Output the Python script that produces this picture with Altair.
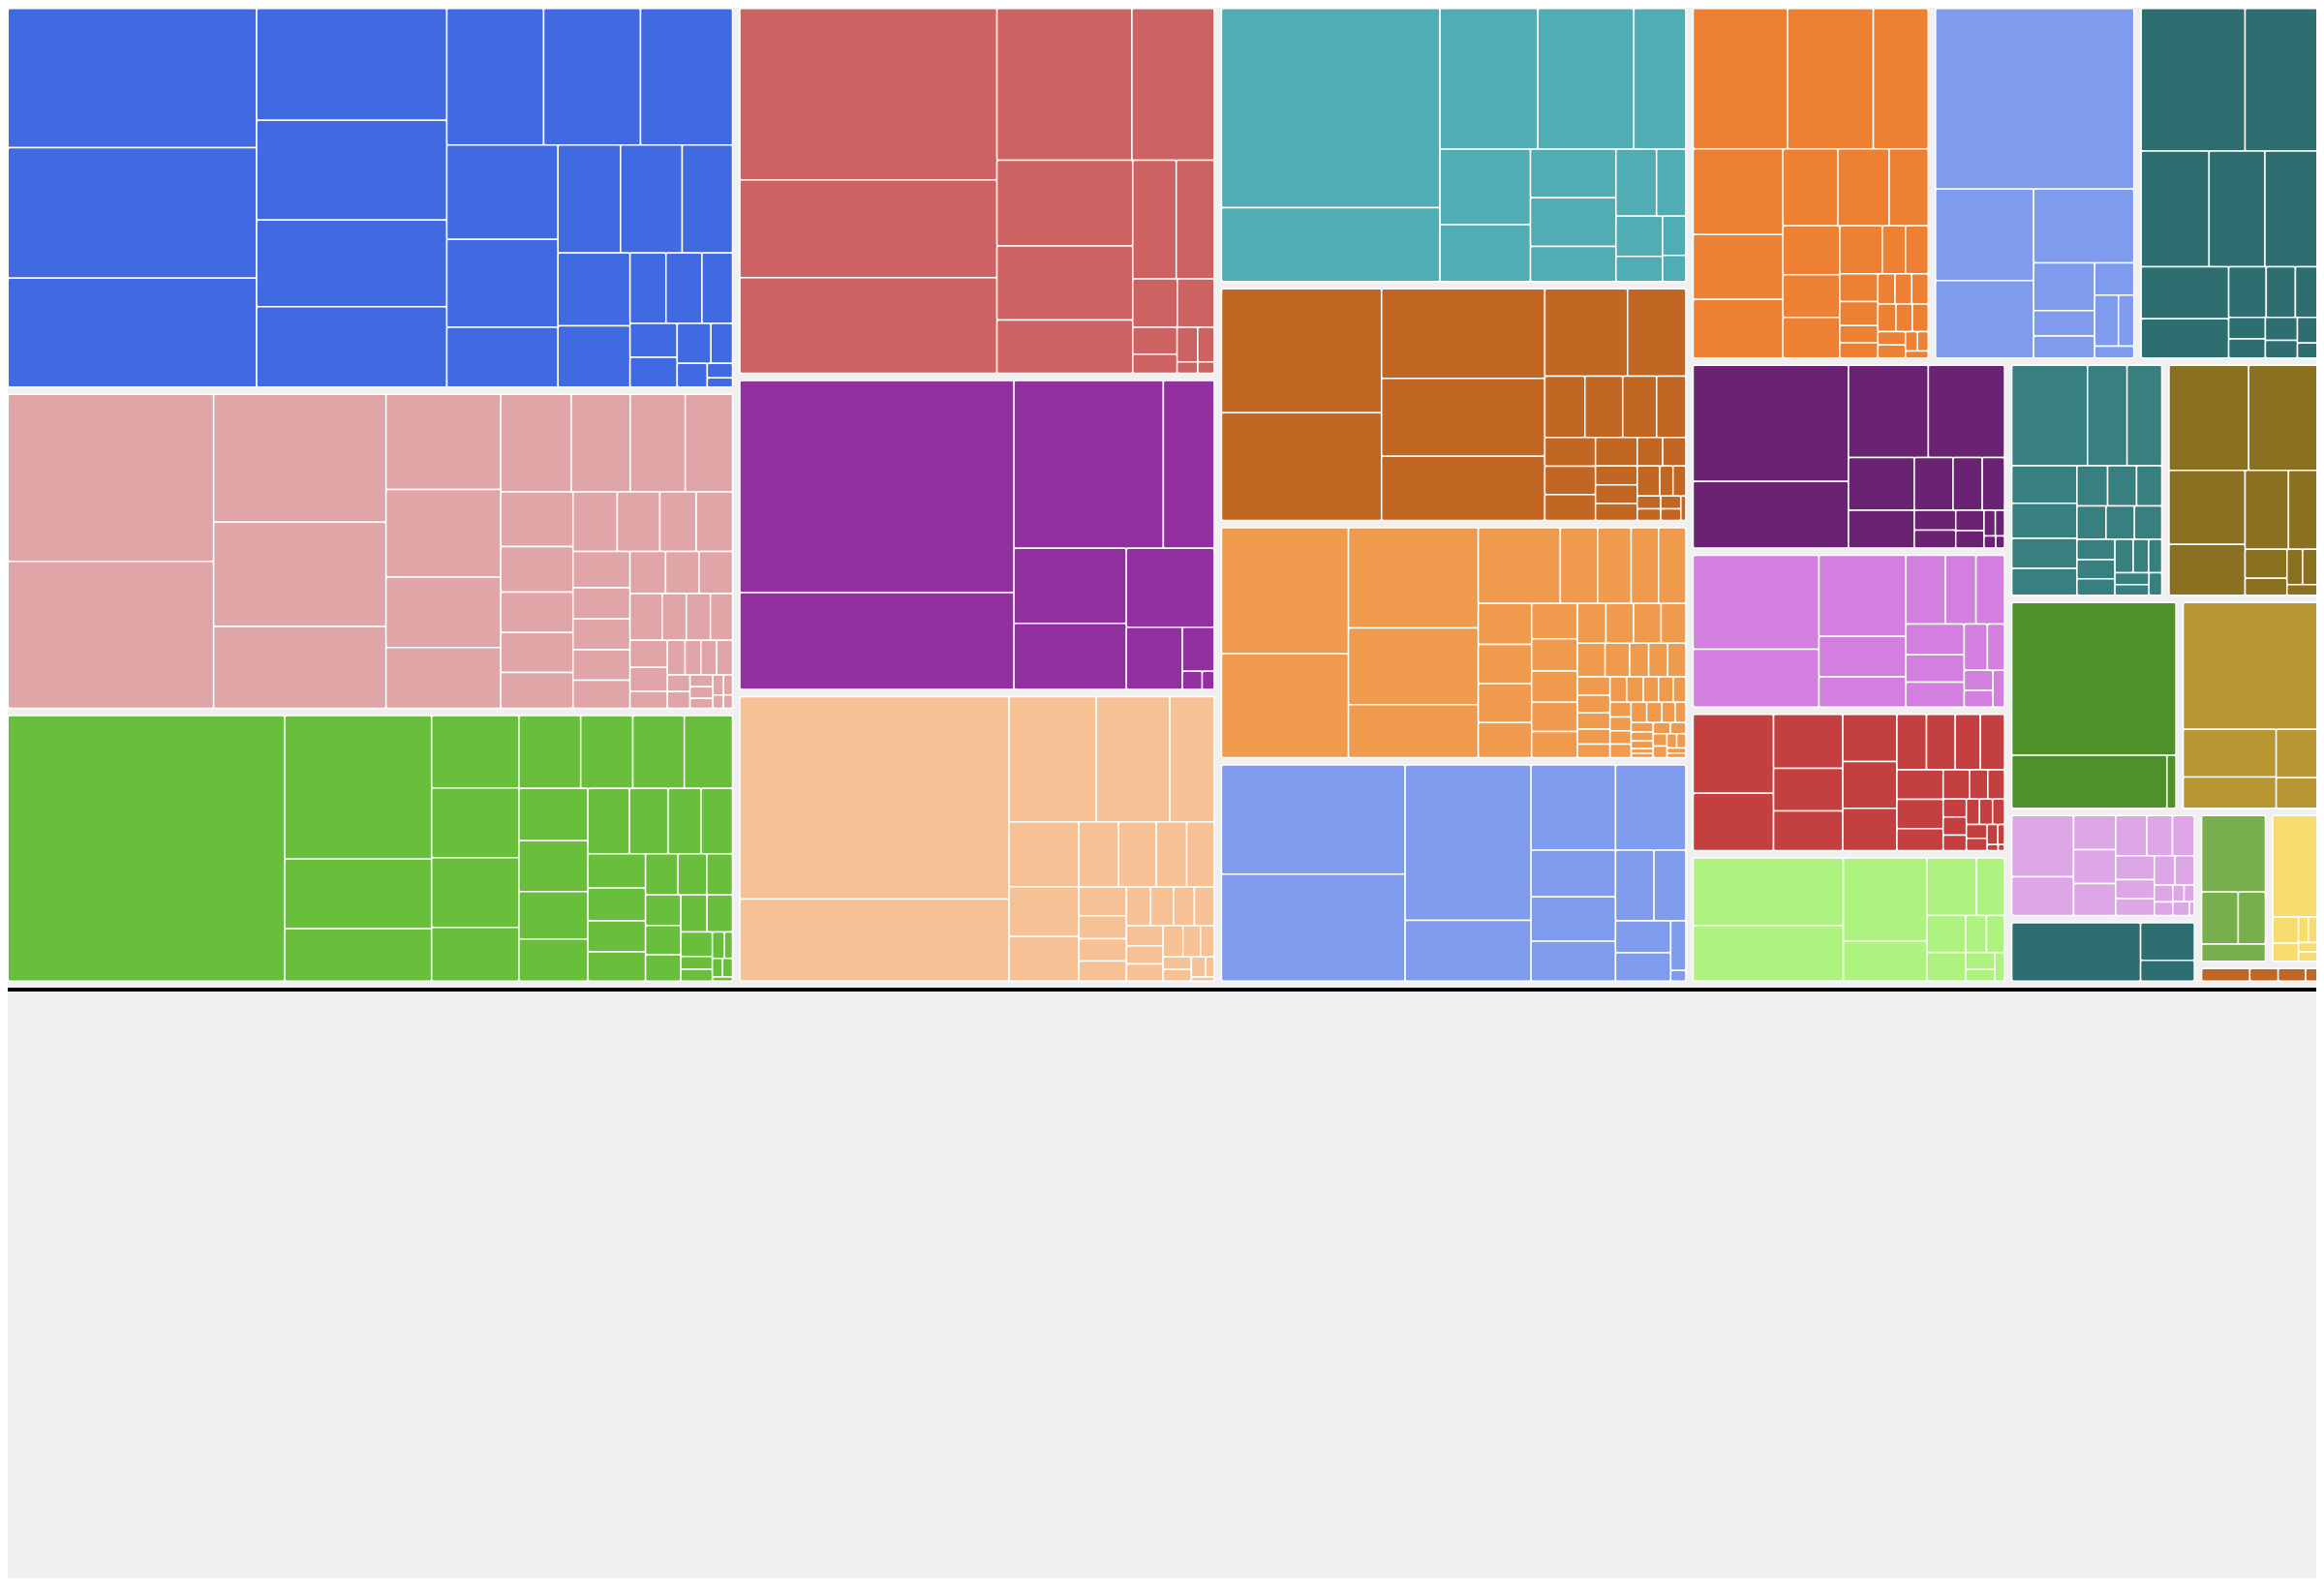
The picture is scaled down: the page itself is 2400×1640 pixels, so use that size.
import altair as alt
import pandas as pd

# ---------------- data ----------------
group_names = ["Royal", "Rose", "Grass", "Brick", "Violet", "Peach", "Lagoon",
               "Cocoa", "Sand", "Periwinkle", "Amber", "Sky", "Pine", "Plum",
               "Orchid", "Crimson", "Lime", "Teal", "Olive", "Forest", "Gold",
               "Lavender", "Spruce", "Moss", "Lemon", "Rust"]
group_colors = ["#4169E1", "#E0A5A7", "#69BF3B", "#CD6262", "#9230A0", "#F7C196",
                "#50ADB4", "#C26624", "#EF9A4D", "#7F9BEE", "#ED8032", "#7F9BEE",
                "#2F6E70", "#6A2272", "#D27FE0", "#C44040", "#AEF27F", "#388080",
                "#8A7021", "#4E902A", "#B89632", "#DDA6E7", "#2F6E70", "#78AE4B",
                "#F7DC6F", "#C26624"]
group_totals = [301.4, 250.8, 213.1, 191.3, 162.4, 150.0, 141.1, 120.3, 119.3,
                112.5, 92.3, 78.3, 69.9, 64.6, 54.1, 48.8, 44.4, 39.8, 39.4,
                39.0, 32.2, 21.7, 13.3, 11.6, 8.5, 2.6]
# top-level strips (rows / columns of the squarified layout)
top_strips = [["Royal", "Rose", "Grass"], ["Brick", "Violet", "Peach"],
              ["Lagoon", "Cocoa", "Sand", "Periwinkle"], ["Amber", "Sky", "Pine"],
              ["Plum", "Orchid", "Crimson", "Lime"], ["Teal", "Olive"],
              ["Forest", "Gold"], ["Lavender", "Spruce"], ["Moss", "Lemon"], ["Rust"]]

royal = [[36.9, 34.6, 28.9], [22.7, 20.2, 17.6, 16.3], [14.1, 14.1, 13.4],
         [11.2, 10.4, 7.1], [7.2, 7.1, 5.8], [5.6, 4.7], [2.7, 2.7, 2.3],
         [1.7, 1.5], [1.44, 0.92], [0.76], [0.39, 0.25]]
rose = [[36.5, 32.1], [23.4, 19.1, 15.0], [11.6, 10.7, 8.6, 7.4],
        [7.3, 6.1, 5.7, 4.9], [4.2, 3.5, 3.1, 3.05, 2.75], [2.8, 2.7, 2.3, 2.3],
        [2.2, 1.9, 1.85, 1.85, 1.7], [1.6, 1.5, 1.5], [1.6, 1.2, 1.2, 1.1],
        [1.07, 0.96, 0.67], [0.65, 0.58, 0.58, 0.58], [0.4, 0.4],
        [0.29, 0.28, 0.24], [0.23, 0.19], [0.15], [0.13]]
grass = [[78.4], [22.5, 10.9, 8.2], [6.75, 6.5, 6.5, 5.0], [4.8, 4.05, 4.0, 3.75],
         [3.85, 3.75, 3.5, 3.1], [2.9, 2.7, 2.3, 2.2], [2.1, 2.0, 1.9, 1.8],
         [1.43, 1.26, 1.13], [1.15, 1.1, 1.0], [1.03, 1.0], [0.82, 0.43, 0.4],
         [0.34, 0.23], [0.2, 0.2], [0.09]]
brick = [[46.9, 26.8, 26.2], [21.8, 13.3], [12.4, 10.7, 7.7], [5.5, 4.8],
         [2.3, 1.9], [1.27, 0.91], [0.76, 0.61], [0.25], [0.2]]
violet = [[62.0, 28.3], [26.7, 9.1], [9.0, 7.9], [7.4], [3.7], [1.5], [0.38], [0.23]]
peach = [[57.9, 23.5], [11.6, 9.8, 5.9], [4.8, 3.7, 3.3], [2.75, 2.6, 2.1, 1.9],
         [1.46, 1.16, 1.12, 1.02], [1.0, 0.94, 0.86, 0.82], [0.78, 0.7, 0.67],
         [0.66, 0.58, 0.45], [0.38, 0.35], [0.31, 0.18], [0.1]]
lagoon = [[46.5, 17.2], [14.7, 14.4, 7.8], [7.3, 5.5], [4.45, 4.45, 3.2],
          [2.9, 2.1], [2.0, 1.25], [0.98], [0.65]]
cocoa = [[21.0, 18.3], [15.5, 13.5, 11.1], [7.65, 5.4], [2.6, 2.45, 2.2, 1.9],
         [1.54, 1.52, 1.4], [1.26, 0.84, 0.82, 0.76], [0.77, 0.7],
         [0.72, 0.42, 0.41], [0.32, 0.29], [0.27, 0.25], [0.13]]
sand = [[17.0, 14.0], [13.8, 10.6, 7.3], [6.6, 3.0, 2.7, 2.2, 2.2],
        [2.31, 2.23, 2.2, 1.99], [1.72, 1.57, 1.52, 1.42, 1.27],
        [1.2, 1.16, 1.16, 1.04], [0.99, 0.88, 0.68, 0.68, 0.65],
        [0.64, 0.61, 0.56, 0.52, 0.47], [0.45, 0.45, 0.41, 0.4, 0.34],
        [0.33, 0.31, 0.3, 0.3], [0.34, 0.33, 0.29, 0.23],
        [0.22, 0.21, 0.18, 0.11, 0.1], [0.2, 0.18], [0.18, 0.17],
        [0.15, 0.14], [0.1, 0.09]]
periwinkle = [[21.4, 21.0], [20.9, 8.15], [7.7, 6.4], [4.2, 4.0, 3.6],
              [2.9, 2.4], [1.88, 1.67], [0.8], [0.17]]
amber = [[14.1, 12.8, 8.2], [8.2, 6.2, 5.6], [4.5, 4.2, 3.2], [2.95, 2.57, 2.46],
         [2.17, 1.18, 1.16], [1.13, 0.97, 0.7, 0.62], [0.55, 0.54, 0.53],
         [0.53, 0.48, 0.47], [0.39, 0.38], [0.25, 0.22], [0.17]]
sky = [[38.2], [9.6, 8.1], [7.9], [3.11, 1.66, 1.43], [1.35], [1.29, 0.84], [0.5]]
pine = [[15.8, 11.0], [8.4, 6.9, 6.5], [4.84, 3.67], [2.02, 1.57, 1.19],
        [0.84, 0.75], [0.79, 0.6], [0.55], [0.32]]
plum = [[19.2, 11.0], [7.84, 7.48], [3.7, 2.63], [2.18, 1.64, 1.25],
        [0.87, 0.79], [0.61, 0.52], [0.31, 0.25], [0.15], [0.11]]
orchid = [[12.6, 7.74], [7.5, 3.73, 2.8], [2.9, 2.24, 2.09], [1.91, 1.7, 1.55],
          [1.14, 0.84], [0.62, 0.51], [0.45]]
crimson = [[6.7, 4.87], [3.96, 3.11, 2.9], [2.7, 2.67, 2.41],
           [1.73, 1.68, 1.47, 1.41], [1.45, 1.43, 1.07], [0.82, 0.57, 0.52],
           [0.44, 0.44, 0.38], [0.35, 0.35, 0.32], [0.3, 0.27], [0.23, 0.14],
           [0.07], [0.04]]
lime = [[10.8, 8.9], [7.39, 3.58], [3.04, 1.73], [1.52, 1.18], [0.82, 0.71],
        [0.53, 0.36], [0.29]]
teal = [[7.98, 4.17, 3.66], [2.57, 2.39, 2.06, 1.83], [1.29, 1.22, 1.06],
        [1.02, 1.0, 0.96], [0.81, 0.76, 0.65], [0.64, 0.54, 0.46], [0.42, 0.38], [0.3]]
olive = [[8.81, 7.6], [5.92, 4.05], [3.6, 2.4], [1.28, 0.74], [0.58, 0.55], [0.34]]
forest = [[26.8], [8.8], [0.51]]
gold = [[18.2], [4.74, 3.1], [2.13], [1.35]]
lavender = [[3.98, 2.51], [1.5, 1.5, 1.41], [1.31, 1.08, 0.92], [0.98, 0.76, 0.69],
            [0.64, 0.6], [0.33, 0.26], [0.2, 0.18], [0.24], [0.07]]
spruce = [[8.0], [2.15], [1.19]]
moss = [[5.16], [2.02, 1.5], [1.17]]
lemon = [[4.83], [0.72, 0.5], [0.27, 0.25], [0.19, 0.19]]
rust = [[0.64], [0.375], [0.365], [0.157]]

group_leaves = {"Royal": royal, "Rose": rose, "Grass": grass, "Brick": brick,
                "Violet": violet, "Peach": peach, "Lagoon": lagoon, "Cocoa": cocoa,
                "Sand": sand, "Periwinkle": periwinkle, "Amber": amber, "Sky": sky,
                "Pine": pine, "Plum": plum, "Orchid": orchid, "Crimson": crimson,
                "Lime": lime, "Teal": teal, "Olive": olive, "Forest": forest,
                "Gold": gold, "Lavender": lavender, "Spruce": spruce, "Moss": moss,
                "Lemon": lemon, "Rust": rust}

# ---------------- layout (squarified strips, d3 orientation rule) ----------------
W, H = 2384, 1622
PAD = 3.75


def strip_layout(strips, x0, y0, x1, y1):
    remaining = sum(sum(s) for s in strips)
    out = []
    for strip in strips:
        s = sum(strip)
        dx, dy = x1 - x0, y1 - y0
        if dx < dy:
            h = dy * s / remaining
            cx = x0
            for v in strip:
                w = dx * v / s
                out.append((cx, y0, cx + w, y0 + h))
                cx += w
            y0 += h
        else:
            w = dx * s / remaining
            cy = y0
            for v in strip:
                hh = dy * v / s
                out.append((x0, cy, x0 + w, cy + hh))
                cy += hh
            x0 += w
        remaining -= s
    return out


total_of = dict(zip(group_names, group_totals))
top_vals = [[total_of[g] for g in strip] for strip in top_strips]
flat_groups = [g for strip in top_strips for g in strip]
group_rects = strip_layout(top_vals, -3.5, -3.0, 2389.0, 1009.0)

rows = []
for g, (gx0, gy0, gx1, gy1) in zip(flat_groups, group_rects):
    leaves = group_leaves[g]
    rects = strip_layout(leaves, gx0 + PAD, gy0 + PAD, gx1 - PAD, gy1 - PAD)
    vals = [v for s in leaves for v in s]
    for v, (a, b, c, d) in zip(vals, rects):
        rows.append({"group": g, "value": v, "x": a, "y": b, "x2": c, "y2": d})

df = pd.DataFrame(rows)

xs = alt.Scale(domain=[0, W], nice=False, zero=False)
ys = alt.Scale(domain=[0, H], nice=False, zero=False, reverse=True)

tiles = alt.Chart(df).mark_rect(stroke="white", strokeWidth=1.5, cornerRadius=2).encode(
    x=alt.X("x:Q", scale=xs, axis=None),
    x2="x2:Q",
    y=alt.Y("y:Q", scale=ys, axis=None),
    y2="y2:Q",
    color=alt.Color("group:N", scale=alt.Scale(domain=group_names, range=group_colors),
                    legend=None),
    tooltip=["group:N", "value:Q"],
)

line = alt.Chart(pd.DataFrame({"y": [1014]})).mark_rule(color="black", strokeWidth=4).encode(
    x=alt.value(0), x2=alt.value(W), y=alt.Y("y:Q", scale=ys, axis=None)
)

chart = alt.layer(tiles, line).properties(
    width=W, height=H, background="#f0f0f0", padding=0,
    autosize=alt.AutoSizeParams(type="none"),
).configure_view(stroke=None)

chart.save("out.html", embed_options={"renderer": "svg", "actions": False})
